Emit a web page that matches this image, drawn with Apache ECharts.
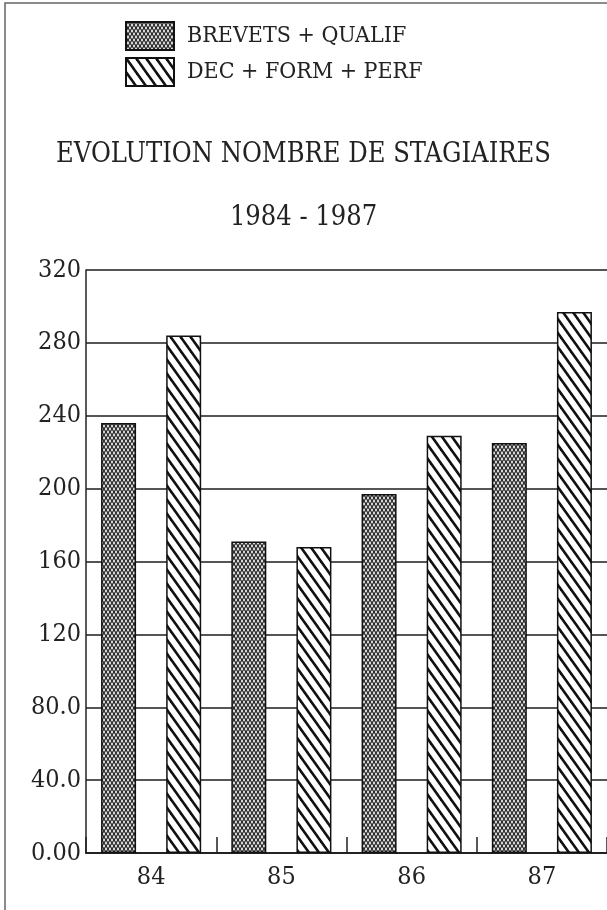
<!DOCTYPE html>
<html><head><meta charset="utf-8">
<script src="https://cdn.jsdelivr.net/npm/echarts@6/dist/echarts.min.js"></script>
<style>html,body{margin:0;padding:0;background:#fff}#c{width:607px;height:910px}</style>
</head><body><div id="c"></div>
<script>
const categories = ['84', '85', '86', '87'];
const brevetsQualif = [236, 171, 197, 225];
const decFormPerf = [284, 168, 229, 297];
const seriesNames = ['BREVETS + QUALIF', 'DEC + FORM + PERF'];
const yTickLabels = ['0.00', '40.0', '80.0', '120', '160', '200', '240', '280', '320'];
const titleText = 'EVOLUTION NOMBRE DE STAGIAIRES';
const subtitleText = '1984 - 1987';

const FONT = "'DejaVu Serif Condensed', 'DejaVu Serif', 'Liberation Serif', serif";

function stripePattern() {
  const w = 10, h = 14;
  const c = document.createElement('canvas'); c.width = w; c.height = h;
  const g = c.getContext('2d');
  g.fillStyle = '#fff'; g.fillRect(0, 0, w, h);
  g.strokeStyle = '#111'; g.lineWidth = 2.6;
  for (const x0 of [-w, 0, w]) {
    g.beginPath(); g.moveTo(x0 - w * 0.3, -h * 0.3); g.lineTo(x0 + w * 1.3, h * 1.3); g.stroke();
  }
  return c;
}
function meshPattern() {
  const w = 4, h = 6;
  const c = document.createElement('canvas'); c.width = w; c.height = h;
  const g = c.getContext('2d');
  g.fillStyle = '#e4e4e4'; g.fillRect(0, 0, w, h);
  g.strokeStyle = '#1a1a1a'; g.lineWidth = 1.1;
  g.beginPath(); g.moveTo(0, 3); g.lineTo(2, 0); g.lineTo(4, 3); g.lineTo(2, 6); g.closePath(); g.stroke();
  return c;
}

const chart = echarts.init(document.getElementById('c'));
chart.setOption({
  backgroundColor: '#fff',
  animation: false,
  title: {
    text: titleText,
    subtext: subtitleText,
    left: 'center',
    top: 136,
    itemGap: 36,
    textStyle: { fontFamily: FONT, fontSize: 27, fontWeight: 'normal', color: '#222' },
    subtextStyle: { fontFamily: FONT, fontSize: 27, color: '#222' }
  },
  legend: {
    orient: 'vertical',
    left: 120,
    top: 16,
    itemWidth: 48,
    itemHeight: 28,
    itemGap: 6,
    icon: 'rect',
    textStyle: { fontFamily: FONT, fontSize: 23, color: '#222', padding: [0, 0, 0, 8] },
    data: seriesNames
  },
  graphic: [{
    type: 'rect', z: -1, silent: true,
    shape: { x: 5, y: 3, width: 640, height: 940 },
    style: { fill: 'none', stroke: '#666', lineWidth: 1.5 }
  }],
  grid: { left: 86, right: -3, top: 270, bottom: 57 },
  xAxis: {
    type: 'category',
    data: categories,
    axisLine: { show: true, lineStyle: { color: '#222', width: 2 } },
    axisTick: { show: true, inside: true, length: 16, lineStyle: { color: '#222', width: 1.5 } },
    axisLabel: { fontFamily: FONT, fontSize: 25, color: '#222', margin: 12 }
  },
  yAxis: {
    type: 'value',
    min: 0, max: 320, interval: 40,
    axisLine: { show: true, lineStyle: { color: '#222', width: 1.5 } },
    axisTick: { show: false },
    axisLabel: {
      fontFamily: FONT, fontSize: 25, color: '#222', margin: 5,
      formatter: v => yTickLabels[Math.round(v / 40)]
    },
    splitLine: { show: true, lineStyle: { color: '#555', width: 2 } }
  },
  series: [
    {
      name: seriesNames[0], type: 'bar', data: brevetsQualif,
      barWidth: 35, barGap: '86%',
      itemStyle: { color: { image: meshPattern(), repeat: 'repeat' }, borderColor: '#111', borderWidth: 1.5 }
    },
    {
      name: seriesNames[1], type: 'bar', data: decFormPerf,
      barWidth: 35,
      itemStyle: { color: { image: stripePattern(), repeat: 'repeat' }, borderColor: '#111', borderWidth: 1.5 }
    }
  ]
});
</script>
</body></html>
